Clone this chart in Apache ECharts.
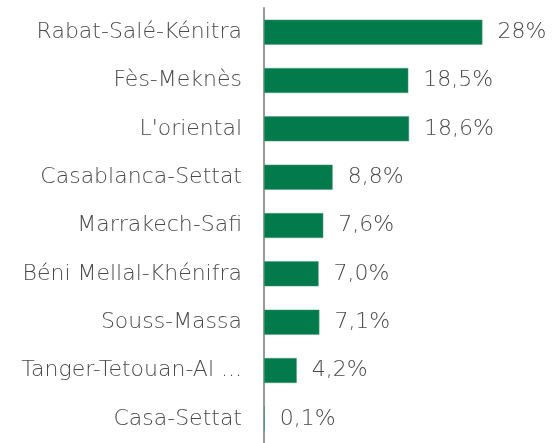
<!DOCTYPE html>
<html>
<head>
<meta charset="utf-8">
<script src="https://cdn.jsdelivr.net/npm/echarts@6/dist/echarts.min.js"></script>
<style>
    html, body { margin: 0; padding: 0; background: #fff; }
    #RegionContainer { width: 555px; height: 443px; }
</style>
</head>
<body>
<div id="RegionContainer"></div>
<script>
var regions = ['Rabat-Salé-Kénitra', 'Fès-Meknès', "L'oriental", 'Casablanca-Settat',
    'Marrakech-Safi', 'Béni Mellal-Khénifra', 'Souss-Massa', 'Tanger-Tetouan-Al Hoceima', 'Casa-Settat'];
var shares = [28, 18.5, 18.6, 8.8, 7.6, 7.0, 7.1, 4.2, 0.1];
var shareLabels = ['28%', '18,5%', '18,6%', '8,8%', '7,6%', '7,0%', '7,1%', '4,2%', '0,1%'];

function Set_Region_echarts() {
    var RegionContainer = document.getElementById('RegionContainer');
    var myChart_Region = echarts.init(RegionContainer, null, {
        renderer: 'canvas',
        useDirtyRect: false
    });

    var option;

    option = {
        animation: false,
        grid: {
            left: 264,
            top: 8,
            width: 273,
            height: 446
        },
        xAxis: {
            type: 'value',
            min: 0,
            max: 35,
            show: false
        },
        yAxis: {
            type: 'category',
            inverse: true,
            data: regions,
            axisLine: {
                show: true,
                lineStyle: { color: '#9a9a9a', width: 2 }
            },
            axisTick: { show: false },
            axisLabel: {
                margin: 22,
                color: '#4a4a4a',
                fontFamily: 'DejaVu Sans',
                fontWeight: 200,
                fontSize: 22,
                width: 238,
                overflow: 'truncate',
                ellipsis: '...'
            }
        },
        series: [
            {
                name: 'Part',
                type: 'bar',
                barWidth: 25,
                data: shares,
                itemStyle: {
                    color: '#037a4c',
                    borderColor: '#4f9c7c',
                    borderWidth: 0.5
                },
                label: {
                    show: true,
                    position: 'right',
                    distance: 15,
                    color: '#4a4a4a',
                    fontFamily: 'DejaVu Sans',
                    fontWeight: 200,
                    fontSize: 22,
                    formatter: function (p) {
                        return shareLabels[p.dataIndex];
                    }
                }
            }
        ]
    };

    if (option && typeof option === 'object') {
        myChart_Region.setOption(option);
    }

    window.addEventListener('resize', myChart_Region.resize);
}

Set_Region_echarts();
</script>
</body>
</html>
